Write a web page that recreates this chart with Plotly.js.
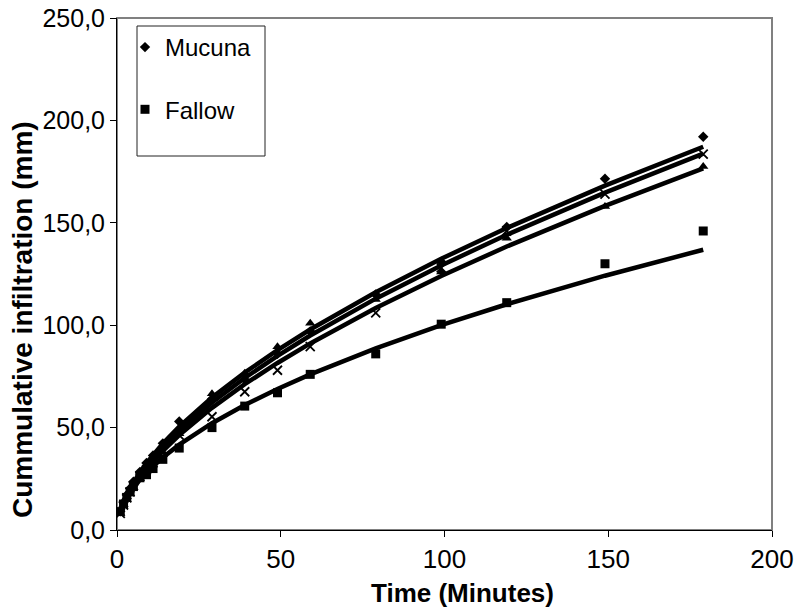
<!DOCTYPE html>
<html>
<head>
<meta charset="utf-8">
<script src="https://cdn.plot.ly/plotly-3.0.1.min.js"></script>
<style>html,body{margin:0;padding:0;background:#fff;}#chart{width:798px;height:612px;}</style>
</head>
<body>
<div id="chart"></div>
<script>
// Time (minutes)
const times = [1, 2, 3, 4, 5, 7, 9, 11, 14, 19, 29, 39, 49, 59, 79, 99, 119, 149, 179];
// Cumulative infiltration (mm)
const mucuna   = [9.1, 13.4, 17.1, 20.3, 23.6, 28.4, 32.7, 36.4, 42.3, 53, 64, 73.5, 86, 97, 115, 131, 148, 171.5, 192];
const fallow   = [9.0, 12.7, 15.9, 18.6, 21.2, 25.5, 27, 30, 34.5, 40, 50, 60.5, 67, 76, 86, 100.5, 111, 130, 146];
const series3  = [8.1, 12.5, 16.2, 19.5, 22.7, 28.2, 30, 34, 38, 47, 66.5, 76.5, 89.5, 101, 112.5, 126, 142.5, 158, 177.5];
const series4  = [8.1, 12.2, 15.7, 18.6, 21.6, 26.2, 29.4, 32.8, 37.9, 46.3, 55.3, 67.5, 78, 89.5, 106, 128, 146, 164, 183.5];
const seriesNames = ['Mucuna', 'Fallow', 'Series3', 'Series4'];
const xTicks = [0, 50, 100, 150, 200];
const yTicks = [0, 50, 100, 150, 200, 250];
const xTitle = 'Time (Minutes)';
const yTitle = 'Cummulative infiltration (mm)';

// Excel-style power trendline (least squares on ln-ln)
function powerFit(x, y) {
  const n = x.length;
  let sx = 0, sy = 0, sxx = 0, sxy = 0;
  for (let i = 0; i < n; i++) {
    const lx = Math.log(x[i]), ly = Math.log(y[i]);
    sx += lx; sy += ly; sxx += lx * lx; sxy += lx * ly;
  }
  const b = (n * sxy - sx * sy) / (n * sxx - sx * sx);
  const a = Math.exp((sy - b * sx) / n);
  return x.map(v => a * Math.pow(v, b));
}

const symbols = ['diamond', 'square', 'triangle-up', 'x-thin-open'];
const sizes = [8, 9, 9, 9];
const data = [mucuna, fallow, series3, series4];
const traces = [];
data.forEach((vals, i) => {
  traces.push({
    x: times, y: powerFit(times, vals), mode: 'lines', type: 'scatter',
    line: {color: '#000', width: 4.5}, showlegend: false, hoverinfo: 'skip'
  });
});
data.forEach((vals, i) => {
  traces.push({
    x: times, y: vals, mode: 'markers', type: 'scatter', name: seriesNames[i],
    legendgroup: 'g' + i, showlegend: i < 2,
    marker: {symbol: symbols[i], size: sizes[i], color: '#000',
             line: {color: '#000', width: i === 3 ? 1.8 : 0}}
  });
});

const W = 655, H = 512;
const layout = {
  width: 798, height: 612,
  margin: {l: 117, r: 26, t: 18, b: 82},
  paper_bgcolor: '#fff', plot_bgcolor: '#fff',
  separators: ', ',
  font: {family: 'Liberation Sans, Arial, sans-serif', color: '#000', size: 24},
  showlegend: true,
  legend: {x: 8 / W, xanchor: 'left', y: (512 - 7) / H, yanchor: 'top',
           bgcolor: 'rgba(0,0,0,0)', borderwidth: 0, traceorder: 'grouped',
           tracegroupgap: 28, font: {size: 24}},
  xaxis: {range: [0, 200], tickvals: xTicks, ticks: 'outside', ticklen: 6, tickwidth: 1,
          tickcolor: '#000', showline: true, linecolor: '#000', linewidth: 1,
          showgrid: false, zeroline: false, tickfont: {size: 26}},
  yaxis: {range: [0, 250], tickvals: yTicks, tickformat: '.1f', ticks: 'outside', ticklen: 6,
          tickwidth: 1, tickcolor: '#000', showline: true, linecolor: '#000', linewidth: 1,
          showgrid: false, zeroline: false, tickfont: {size: 25}},
  annotations: [
    {text: '<b>' + xTitle + '</b>', xref: 'paper', yref: 'paper', x: (463 - 117) / W,
     y: -(593 - 530) / H, xanchor: 'center', yanchor: 'middle', showarrow: false,
     font: {size: 26}},
    {text: '<b>' + yTitle + '</b>', xref: 'paper', yref: 'paper', x: -(117 - 22) / W,
     y: (530 - 320) / H, xanchor: 'center', yanchor: 'middle', showarrow: false,
     textangle: -90, font: {size: 28}}
  ],
  shapes: [
    {type: 'rect', xref: 'paper', yref: 'paper', x0: 0, x1: 1, y0: 0, y1: 1,
     line: {color: '#808080', width: 2}, layer: 'below'},
    {type: 'rect', xref: 'paper', yref: 'paper', x0: 20 / W, x1: 148 / W,
     y0: (530 - 156) / H, y1: (530 - 26) / H,
     line: {color: '#222', width: 1}, fillcolor: 'rgba(0,0,0,0)', layer: 'above'}
  ]
};

Plotly.newPlot('chart', traces, layout, {staticPlot: true, displayModeBar: false});
</script>
</body>
</html>
